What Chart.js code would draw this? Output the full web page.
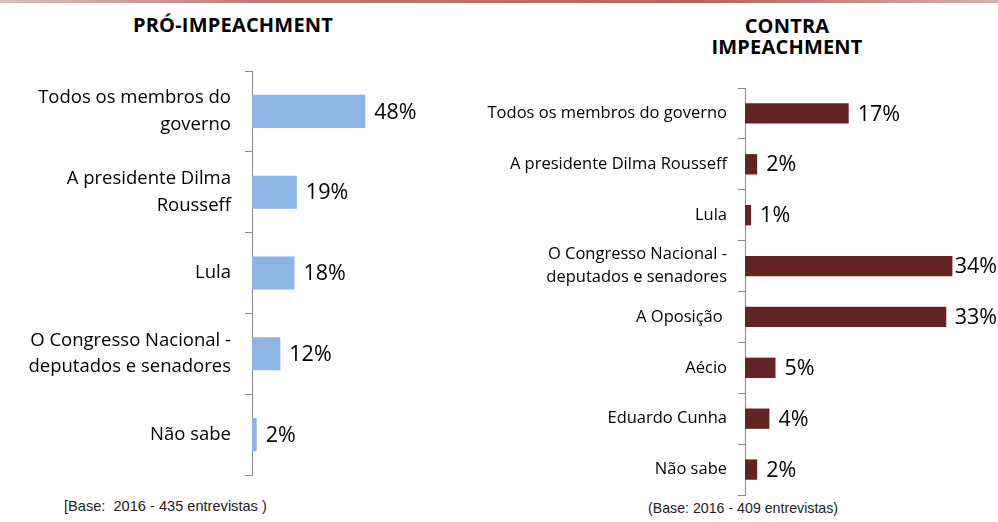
<!DOCTYPE html>
<html>
<head>
<meta charset="utf-8">
<script src="https://cdn.jsdelivr.net/npm/chart.js@4/dist/chart.umd.min.js"></script>
<style>
  html,body{margin:0;padding:0;background:#fff;}
  body{width:998px;height:522px;position:relative;overflow:hidden;font-family:"Open Sans",sans-serif;}
  .topline{position:absolute;left:0;top:0;width:998px;height:3px;
    background:linear-gradient(to right,rgba(190,140,140,.55),rgba(170,80,80,.75) 25%,rgba(160,60,60,.8) 70%,rgba(190,120,120,.6));}
  .title{position:absolute;font-weight:bold;font-size:20px;color:#000;text-align:center;line-height:21px;letter-spacing:.2px;}
  .note{position:absolute;font-family:"Liberation Sans Narrow","Liberation Sans",sans-serif;color:#222;white-space:pre;}
  canvas{position:absolute;}
</style>
</head>
<body>
<div class="topline"></div>
<div class="title" style="left:83px;top:14px;width:300px;">PRÓ-IMPEACHMENT</div>
<div class="title" style="left:637px;top:15px;width:300px;">CONTRA<br>IMPEACHMENT</div>
<div class="note" style="left:64px;top:498px;font-size:14.6px;">[Base:  2016 - 435 entrevistas )</div>
<div class="note" style="left:648px;top:500px;font-size:14.2px;">(Base: 2016 - 409 entrevistas)</div>

<div style="position:absolute;left:0;top:61px;width:490px;height:424px;"><canvas id="proChart"></canvas></div>
<div style="position:absolute;left:460px;top:78px;width:538px;height:427px;"><canvas id="contraChart"></canvas></div>

<script>
// Pró-impeachment
const proLabels = [['Todos os membros do','governo'], ['A presidente Dilma','Rousseff'], 'Lula', ['O Congresso Nacional -','deputados e senadores'], 'Não sabe'];
const proValues = [48, 19, 18, 12, 2];

// Contra impeachment
const contraLabels = ['Todos os membros do governo', 'A presidente Dilma Rousseff', 'Lula', ['O Congresso Nacional -','deputados e senadores'], 'A Oposição ', 'Aécio', 'Eduardo Cunha', 'Não sabe'];
const contraValues = [17, 2, 1, 34, 33, 5, 4, 2];

// value labels at bar end, kept inside the canvas
const valueLabels = {
  id: 'valueLabels',
  afterDatasetsDraw(chart){
    const ctx = chart.ctx;
    const meta = chart.getDatasetMeta(0);
    const vals = chart.data.datasets[0].data;
    ctx.save();
    ctx.font = '21.5px "Open Sans", sans-serif';
    ctx.fillStyle = '#000';
    ctx.textBaseline = 'middle';
    meta.data.forEach((bar, i)=>{
      const txt = vals[i] + '%';
      const w = ctx.measureText(txt).width;
      const x = Math.min(bar.x + 9, chart.width - w - 1);
      ctx.fillText(txt, x, bar.y + 1);
    });
    ctx.restore();
  }
};

function makeChart(id, labels, values, color, opt){
  return new Chart(document.getElementById(id), {
    type: 'bar',
    data: {
      labels: labels,
      datasets: [{
        data: values,
        backgroundColor: color,
        borderWidth: 0,
        barPercentage: opt.bar,
        categoryPercentage: 1
      }]
    },
    options: {
      indexAxis: 'y',
      responsive: true,
      maintainAspectRatio: false,
      animation: false,
      layout: { padding: { left: 0, right: opt.padRight, top: 10, bottom: 10 } },
      plugins: { legend: { display: false }, tooltip: { enabled: false } },
      scales: {
        x: { display: false, min: 0, max: opt.max },
        y: {
          afterFit(scale){
            scale.width = opt.axisW;
            // no extra room for the first/last label, the axis fills the box
            scale.paddingTop = 0;
            scale.paddingBottom = 0;
          },
          border: { display: true, color: '#8c8c8c', width: 1 },
          grid: { drawOnChartArea: false, drawTicks: true, tickLength: 7, offset: true, color: '#8c8c8c' },
          ticks: {
            color: '#000',
            padding: opt.tickPad,
            font: { family: '"Open Sans", sans-serif', size: opt.fontSize, lineHeight: opt.lineH }
          }
        }
      }
    },
    plugins: [valueLabels]
  });
}

makeChart('proChart', proLabels, proValues, '#8db4e2',
  { bar: 0.41, max: 100, padRight: 2, axisW: 252, tickPad: 14, fontSize: 18.5, lineH: 1.45 });
makeChart('contraChart', contraLabels, contraValues, '#632523',
  { bar: 0.4, max: 40, padRight: 9, axisW: 285, tickPad: 11, fontSize: 16.5, lineH: 1.42 });
</script>
</body>
</html>
